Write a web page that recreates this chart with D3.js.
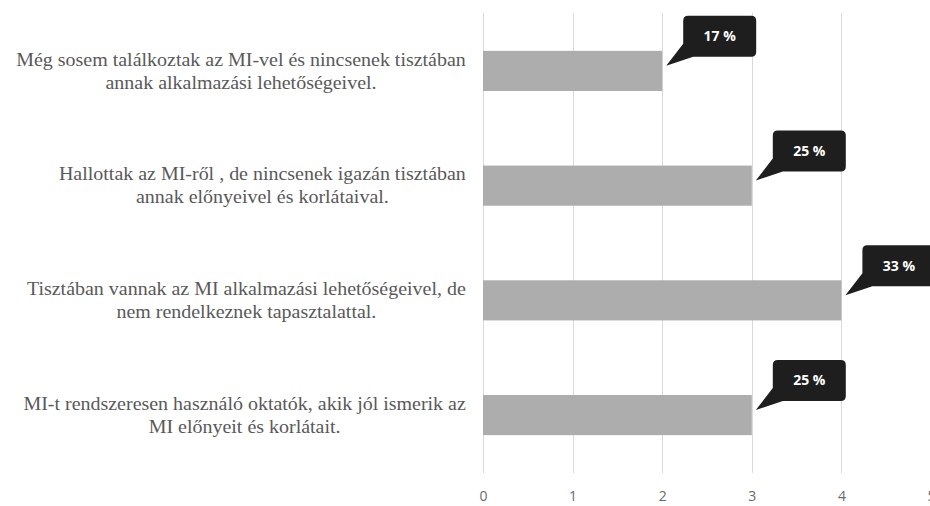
<!DOCTYPE html>
<html>
<head>
<meta charset="utf-8">
<script src="https://cdn.jsdelivr.net/npm/d3@7"></script>
<style>
  body { margin: 0; background: #fff; }
  svg { display: block; }
  .cat { font-family: "Liberation Serif", serif; font-size: 18px; fill: #595959; }
  .tick text { font-family: "Open Sans", sans-serif; font-size: 14px; fill: #6a6a6a; }
  .callout text { font-family: "Open Sans", sans-serif; font-weight: bold; font-size: 14px; fill: #fff; }
</style>
</head>
<body>
<div id="chart"></div>
<script>
// chart data
var categories = [
  ["Még sosem találkoztak az MI-vel és nincsenek tisztában", "annak alkalmazási lehetőségeivel."],
  ["Hallottak az MI-ről , de nincsenek igazán tisztában", "annak előnyeivel és korlátaival."],
  ["Tisztában vannak az MI alkalmazási lehetőségeivel, de", "nem rendelkeznek tapasztalattal."],
  ["MI-t rendszeresen használó oktatók, akik jól ismerik az", "MI előnyeit és korlátait."]
];
var values = [2, 3, 4, 3];
var percentLabels = ["17 %", "25 %", "33 %", "25 %"];
var tickValues = [0, 1, 2, 3, 4, 5];

var width = 930,
  height = 506,
  margin = {top: 13, right: -1, bottom: 33, left: 483};

var svg = d3.select("#chart").append("svg")
  .attr("width", width)
  .attr("height", height);

var x = d3.scaleLinear()
  .domain([0, 5])
  .range([margin.left, width - margin.right]);

var y = d3.scaleBand()
  .domain(d3.range(categories.length))
  .range([margin.top, height - margin.bottom])
  .paddingInner(0.65)
  .paddingOuter(0.33);

// gridlines
svg.append("g")
  .selectAll("line")
  .data(tickValues)
  .enter().append("line")
  .attr("x1", d => Math.round(x(d)) + 0.5)
  .attr("x2", d => Math.round(x(d)) + 0.5)
  .attr("y1", margin.top)
  .attr("y2", height - margin.bottom)
  .style("stroke", "#d9d9d9")
  .style("stroke-width", 1);

// x axis labels
var xAxis = d3.axisBottom(x)
  .tickValues(tickValues)
  .tickFormat(d3.format("d"))
  .tickSize(0)
  .tickPadding(0);
var axisG = svg.append("g")
  .attr("transform", "translate(0," + (height - margin.bottom + 18) + ")")
  .call(xAxis);
axisG.select(".domain").remove();
axisG.selectAll("text").attr("fill", null);

// bars
svg.append("g")
  .selectAll("rect")
  .data(values)
  .enter().append("rect")
  .attr("x", x(0))
  .attr("y", (d, i) => y(i))
  .attr("width", d => x(d) - x(0))
  .attr("height", y.bandwidth())
  .style("fill", "#adadad");

// category labels, each block centred, right edge near the plot
var labelRight = 466,
  lineHeight = 23,
  stretch = 1.11;
var labels = svg.append("g")
  .selectAll("g")
  .data(categories)
  .enter().append("g");

labels.each(function(lines, i) {
  var g = d3.select(this);
  var cy = y(i) + y.bandwidth() / 2;
  var maxW = 0;
  lines.forEach(function(line, j) {
    var t = g.append("text")
      .attr("class", "cat")
      .attr("text-anchor", "middle")
      .attr("x", 0)
      .attr("y", cy + (j - (lines.length - 1) / 2) * lineHeight)
      .attr("dy", "0.35em")
      .text(line);
    maxW = Math.max(maxW, t.node().getComputedTextLength());
  });
  g.attr("transform", "translate(" + (labelRight - maxW * stretch / 2) + ",0) scale(" + stretch + ",1)");
});

// callouts
var boxW = 73, boxH = 41, r = 5;
var callouts = svg.append("g")
  .selectAll("g")
  .data(values)
  .enter().append("g")
  .attr("class", "callout")
  .attr("transform", (d, i) => "translate(" + x(d) + "," + y(i) + ")");

callouts.append("path")
  .attr("d", function() {
    var bx = 21, by = -35;
    return "M" + (bx + r) + "," + by +
      "H" + (bx + boxW - r) +
      "Q" + (bx + boxW) + "," + by + " " + (bx + boxW) + "," + (by + r) +
      "V" + (by + boxH - r) +
      "Q" + (bx + boxW) + "," + (by + boxH) + " " + (bx + boxW - r) + "," + (by + boxH) +
      "H" + (bx + 10) +
      "L" + 4 + "," + 15 +
      "L" + bx + "," + (by + boxH - 13) +
      "V" + (by + r) +
      "Q" + bx + "," + by + " " + (bx + r) + "," + by + "Z";
  })
  .style("fill", "#1e1e1e");

callouts.append("text")
  .data(percentLabels)
  .attr("x", 21 + boxW / 2)
  .attr("y", -35 + boxH / 2)
  .attr("dy", "0.35em")
  .attr("text-anchor", "middle")
  .text(d => d);
</script>
</body>
</html>
